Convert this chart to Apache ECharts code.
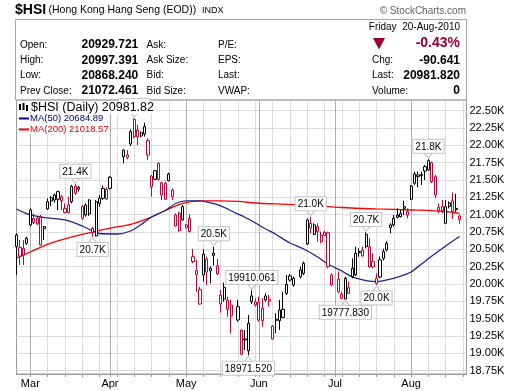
<!DOCTYPE html>
<html><head><meta charset="utf-8">
<script src="https://cdn.jsdelivr.net/npm/echarts@6/dist/echarts.min.js"></script>
<style>html,body{margin:0;padding:0;background:#fff}#c{width:520px;height:391px}</style>
</head><body><div id="c"></div>
<script>
// ---- data ----
const firstDay = '2010-02-23';
const lastCategoryDay = '2010-08-24';
const lastTradingDay = '2010-08-20';
const holidays = ['2010-04-02','2010-04-05','2010-04-06','2010-05-21','2010-06-16','2010-07-01'];
const monthNames = ['Jan','Feb','Mar','Apr','May','Jun','Jul','Aug','Sep','Oct','Nov','Dec'];
const yTicks = {min: 18750, max: 22500, step: 250};

const openVals = [20707,20404,20515,20659,20852,20948,20948,20962,20828,21082,21246,21284,21332,21260,21030,21140,21188,21415,21395,21116,21140,21212,20803,20693,21164,21236,21366,21380,
 21837,21827,22020,22375,22222,22183,22270,22068,21558,21510,21741,21284,21453,21491,21356,20837,21020,20924,
 20852,20948,20395,20193,19712,20131,20361,20192,20443,20265,19842,19784,19770,19698,
 19482,19337,19208,19039,19828,19698,
 19736,19650,19828,19780,19208,19491,19472,19520,19996,20116,19986,
 20107,20155,20578,20876,20717,20828,20611,20746,20741,19986,
 20073,19794,19784,19948,20227,20131,20467,20491,20717,20539,20323,20010,20102,20371,20491,20852,20948,20996,21020,21116,20996,
 21222,21587,21573,21578,21630,21645,21751,21549,21058,21116,20876,21170,21200,21090,20929.721];
const highVals = [20731,20635,20635,20683,21092,21020,20972,20996,20837,21236,21270,21308,21347,21284,21164,21260,21430,21440,21414,21140,21164,21222,20828,21212,21284,21420,21395,21558,
 21943,21933,22231,22390,22294,22198,22327,22101,21573,21645,21755,21476,21476,21606,21380,21020,21044,21140,
 20866,21005,20505,20347,19962,20501,20395,20255,20539,20361,19914,20020,19818,19770,
 19770,19347,19337,19554,19910.061,19794,
 19818,19794,19866,19842,19410,19578,19770,19890,20131,20145,20107,
 20251,20323,20948,20971,20876,20876,20755,20770,20755,20155,
 20179,19890,20107,20034,20371,20539,20515,20539,20745,20659,20443,20155,20400,20510,20620,20876,20996,21092,21068,21202,21092,
 21428,21621,21621,21621,21717,21800,21765,21573,21164,21212,21212,21190,21320,21300,20997.391];
const lowVals = [20131,20275,20275,20563,20828,20866,20852,20554,20635,21068,21126,21174,21068,21068,21020,21020,21164,21284,21332,20924,20972,20981,20683,20690,21116,21212,21212,21366,
 21741,21799,21991,22101,22005,22116,22126,21789,21260,21500,21491,21212,21212,21481,21212,20828,20755,20914,
 20804,20746,20299,19890,19703,20034,19986,20010,20265,20131,19588,19746,19530,19289,
 19458,18977,19049,18971.52,19712,19674,
 19458,19385,19746,19674,19203,19289,19337,19506,19842,20034,19962,
 20082,20131,20563,20731,20707,20611,20587,20693,20227,19972,
 19866,19784,19777.83,19856,20083,20116,20395,20395,20515,20236,20227,19986,20083,20340,20470,20731,20828,20948,20962,20996,20948,
 21212,21428,21395,21428,21500,21635,21453,21236,21020,21020,20866,21090,20940,21040,20868.24];
const closeVals = [20539,20529,20419,20587,21068,20885,20866,20563,20799,21188,21198,21212,21222,21203,21092,21030,21410,21308,21366,20948,20996,21010,20741,21188,21236,21380,21227,21539,
 21933,21861,22198,22125,22121,22135,22164,21861,21404,21635,21510,21462,21222,21587,21260,20996,20770,21116,
 20813,20755,20323,20140,19924,20433,20174,20229,20414,20145,19712,19953,19636,19544,
 19674,18986,19193,19434,19746,19741,
 19482,19472,19770,19756,19395,19477,19626,19635,19866,20058,20082,
 20203,20299,20924,20804,20852,20755,20707,20700,20251,20131,
 19890,19856,20083,19866,20107,20443,20453,20405,20539,20251,20246,20082,20350,20467,20588,20813,20852,20962,20972,21092,21044,
 21414,21453,21549,21563,21693,21780,21476,21284,21106,21058,21116,21120,21050,21072.461,20981.82];

const ma50Dates = ['2010-02-23','2010-03-01','2010-03-08','2010-03-15','2010-03-22','2010-03-25','2010-03-29','2010-04-05','2010-04-09','2010-04-14','2010-04-19','2010-04-23','2010-04-28','2010-05-03','2010-05-07','2010-05-12','2010-05-17','2010-05-21','2010-05-26','2010-05-31','2010-06-03','2010-06-08','2010-06-14','2010-06-18','2010-06-24','2010-06-29','2010-07-05','2010-07-08','2010-07-14','2010-07-19','2010-07-22','2010-07-28','2010-08-02','2010-08-05','2010-08-10','2010-08-16','2010-08-20'];
const ma50Vals = [21082,20996,20953,20924,20837,20765,20729,20722,20765,20859,20967,21061,21162,21198,21198,21169,21126,21032,20963,20881,20794,20715,20592,20506,20390,20289,20188,20102,20051,20037,20059,20116,20174,20289,20405,20549,20684.89];
const ma200Dates = ['2010-02-23','2010-03-01','2010-03-08','2010-03-15','2010-03-22','2010-03-29','2010-04-05','2010-04-09','2010-04-16','2010-04-23','2010-04-30','2010-05-07','2010-05-17','2010-05-24','2010-05-31','2010-06-08','2010-06-21','2010-07-05','2010-07-19','2010-08-02','2010-08-16','2010-08-20'];
const ma200Vals = [20376,20462,20571,20650,20715,20773,20823,20859,20946,21061,21162,21198,21198,21191,21169,21155,21140,21104,21083,21068,21046,21018.57];

const highMarks = [['2010-03-18','k'],['2010-04-12','k'],['2010-05-13','k'],['2010-05-28','full'],['2010-06-22','k'],['2010-07-14','k'],['2010-08-09','k']];
const lowMarks = [['2010-03-25','k'],['2010-05-27','full'],['2010-07-06','full'],['2010-07-19','k']];

// ---- build categories ----
function ds(d){return d.toISOString().slice(0,10);}
const cats = [];
for (let d = new Date(firstDay+'T00:00:00Z'); ds(d) <= lastCategoryDay; d.setUTCDate(d.getUTCDate()+1)) {
  const w = d.getUTCDay(); if (w===0||w===6) continue; cats.push(ds(d));
}
const trading = cats.filter(c => c <= lastTradingDay && holidays.indexOf(c) < 0);
const tIdx = {}; trading.forEach((c,i)=>tIdx[c]=i);
const monthStart = {}; cats.forEach((c,i)=>{ if (i>0 && c.slice(5,7)!==cats[i-1].slice(5,7)) monthStart[i]=true; });
const isMonday = cats.map(c => new Date(c+'T00:00:00Z').getUTCDay()===1);

const RED = '#cc0033', BLK = '#000000';
let prevClose = null;
const candleData = cats.map(c => {
  const k = tIdx[c];
  if (k === undefined) return '-';
  const o=openVals[k], h=highVals[k], l=lowVals[k], cl=closeVals[k];
  const col = (prevClose!==null && cl < prevClose) ? RED : BLK;
  prevClose = cl;
  return {value:[o,cl,l,h], itemStyle:{color:'#ffffff', color0:col, borderColor:col, borderColor0:col}};
});
function sparse(dates, vals){ const arr = cats.map(()=>'-'); dates.forEach((d,i)=>{ arr[cats.indexOf(d)] = vals[i]; }); return arr; }

function fmtMark(v, f){ return f==='k' ? (v/1000).toFixed(1)+'K' : v.toFixed(3); }
const markLabel = {show:true, color:'#000', fontSize:10, fontFamily:'Liberation Sans', backgroundColor:'#fff', borderColor:'#c4c4c4', borderWidth:1, padding:[2,2,1,2], lineHeight:10};
const markData = [];
highMarks.forEach(([d,f]) => { const v = highVals[tIdx[d]];
  markData.push({coord:[d,v], value:v, symbol:'path://M0,0L8,0L4,5Z', symbolSize:[8,5], symbolOffset:[0,-3.5],
    itemStyle:{color:'#fff', borderColor:'#c4c4c4', borderWidth:1},
    label:Object.assign({}, markLabel, {position:'top', distance:0, formatter: fmtMark(v,f)})}); });
lowMarks.forEach(([d,f]) => { const v = lowVals[tIdx[d]];
  markData.push({coord:[d,v], value:v, symbol:'path://M4,0L8,5L0,5Z', symbolSize:[8,5], symbolOffset:[0,3.5],
    itemStyle:{color:'#fff', borderColor:'#c4c4c4', borderWidth:1},
    label:Object.assign({}, markLabel, {position:'bottom', distance:0, formatter: fmtMark(v,f)})}); });

// ---- header texts from data ----
const n = trading.length - 1;
const lastC = closeVals[n], prevC = closeVals[n-1];
const chg = lastC - prevC, pct = chg / prevC * 100;
const lastDate = new Date(trading[n]+'T00:00:00Z');
const dayName = ['Sunday','Monday','Tuesday','Wednesday','Thursday','Friday','Saturday'][lastDate.getUTCDay()];
const dateStr = String(lastDate.getUTCDate()).padStart(2,'0')+'-'+monthNames[lastDate.getUTCMonth()]+'-'+lastDate.getUTCFullYear();

const LF = '10px "Liberation Sans"', VF = 'bold 12px "Liberation Sans"';
function T(x,y,text,font,fill,align,extra){ return {type:'text', x:x, y:y, z:100, silent:true, style:Object.assign({text:text, font:font, fill:fill||'#000', align:align||'left', verticalAlign:'middle'}, extra||{})}; }
const rows = [45, 60.5, 75.5, 91];
const graphics = [
  {type:'rect', z:1, silent:true, shape:{x:15.5,y:19.5,width:451,height:80.5}, style:{fill:'none', stroke:'#a8a8a8', lineWidth:1}},
  T(15, 10, '$HSI', 'bold 14px "Liberation Sans"'),
  T(48.5, 10.5, '(Hong Kong Hang Seng (EOD))', '10.5px "Liberation Sans"'),
  T(202, 11, 'INDX', '9px "Liberation Sans"'),
  T(466, 11.5, '\u00a9 StockCharts.com', '10px "Liberation Sans"', '#606060', 'right'),
  T(460, 27.5, dayName+'  '+dateStr, LF, '#000', 'right'),
  {type:'polygon', z:100, silent:true, shape:{points:[[373,38],[385,38],[379,49.5]]}, style:{fill:'#990033'}},
  T(460, 43.5, pct.toFixed(2)+'%', 'bold 14px "Liberation Sans"', '#990033', 'right'),
  T(20, rows[0], 'Open:', LF), T(81.5, rows[0], openVals[n].toFixed(3), VF), T(146.5, rows[0], 'Ask:', LF), T(218, rows[0], 'P/E:', LF),
  T(20, rows[1], 'High:', LF), T(81.5, rows[1], highVals[n].toFixed(3), VF), T(146.5, rows[1], 'Ask Size:', LF), T(218, rows[1], 'EPS:', LF),
  T(372, rows[1], 'Chg:', LF), T(460, rows[1], chg.toFixed(3), VF, '#000', 'right'),
  T(20, rows[2], 'Low:', LF), T(81.5, rows[2], lowVals[n].toFixed(3), VF), T(146.5, rows[2], 'Bid:', LF), T(218, rows[2], 'Last:', LF),
  T(372, rows[2], 'Last:', LF), T(460, rows[2], lastC.toFixed(3), VF, '#000', 'right'),
  T(20, rows[3], 'Prev Close:', LF), T(81.5, rows[3], prevC.toFixed(3), VF), T(146.5, rows[3], 'Bid Size:', LF), T(218, rows[3], 'VWAP:', LF),
  T(372, rows[3], 'Volume:', LF), T(460, rows[3], '0', VF, '#000', 'right'),
  // legend
  {type:'rect', z:99, silent:true, shape:{x:18,y:101,width:139,height:11}, style:{fill:'#fff'}},
  {type:'rect', z:100, silent:true, shape:{x:19,y:104,width:2,height:6}, style:{fill:'#000'}},
  {type:'rect', z:100, silent:true, shape:{x:22.5,y:103,width:2,height:7}, style:{fill:'#000'}},
  {type:'rect', z:100, silent:true, shape:{x:26,y:105,width:2,height:6}, style:{fill:'#000'}},
  T(31, 107.5, '$HSI (Daily) '+lastC.toFixed(2), '12.5px "Liberation Sans"', '#000', 'left', {backgroundColor:'#fff'}),
  {type:'line', z:100, silent:true, shape:{x1:19,y1:118.5,x2:29,y2:118.5}, style:{stroke:'#000080', lineWidth:2}},
  T(30, 118.5, 'MA(50) '+ma50Vals[ma50Vals.length-1].toFixed(2), '9.5px "Liberation Sans"', '#000080', 'left', {backgroundColor:'#fff'}),
  {type:'line', z:100, silent:true, shape:{x1:19,y1:129.5,x2:29,y2:129.5}, style:{stroke:'#ff0000', lineWidth:2}},
  T(30, 129.5, 'MA(200) '+ma200Vals[ma200Vals.length-1].toFixed(2), '9.5px "Liberation Sans"', '#ee0000', 'left', {backgroundColor:'#fff'})
];

const option = {
  animation:false,
  backgroundColor:'#fff',
  grid:[
    {left:16.5, right:53.5, top:100, bottom:17, show:true, borderColor:'#999', borderWidth:1, backgroundColor:'transparent'},
    {left:16.5, right:53.5, top:110.7, bottom:20.3, show:false}
  ],
  xAxis:[
    {type:'category', gridIndex:0, data:cats, boundaryGap:false,
     axisLine:{lineStyle:{color:'#999'}},
     axisTick:{show:true, length:3, interval:(i)=>isMonday[i]||!!monthStart[i], lineStyle:{color:'#999'}},
     axisLabel:{interval:(i)=>!!monthStart[i], formatter:(v)=>monthNames[+v.slice(5,7)-1], color:'#000', fontSize:11, fontFamily:'Liberation Sans', margin:4},
     splitLine:{show:true, interval:(i)=>isMonday[i]&&!monthStart[i], lineStyle:{color:'#dcdcdc', width:1}}},
    {type:'category', gridIndex:0, data:cats, boundaryGap:false, position:'top',
     axisLine:{show:false}, axisTick:{show:false}, axisLabel:{show:false},
     splitLine:{show:true, interval:(i)=>!!monthStart[i], lineStyle:{color:'#b0b0b0', width:1}}},
    {type:'value', gridIndex:1, show:false}
  ],
  yAxis:[
    {type:'value', gridIndex:0, min:18703, max:22654, show:false, splitLine:{show:false}},
    {type:'value', gridIndex:1, position:'right', min:yTicks.min, max:yTicks.max, interval:yTicks.step,
     axisLine:{show:false}, axisTick:{show:false},
     axisLabel:{formatter:(v)=>(v/1000).toFixed(2)+'K', color:'#000', fontSize:11, fontFamily:'Liberation Sans', margin:3},
     splitLine:{show:true, lineStyle:{color:'#dcdcdc', width:1}}}
  ],
  series:[
    {type:'line', xAxisIndex:0, yAxisIndex:0, data:sparse(ma200Dates, ma200Vals), connectNulls:true, smooth:0.3, symbol:'none', lineStyle:{color:'#ff0000', width:1.3}, z:2},
    {type:'line', xAxisIndex:0, yAxisIndex:0, data:sparse(ma50Dates, ma50Vals), connectNulls:true, smooth:0.3, symbol:'none', lineStyle:{color:'#22228c', width:1.3}, z:2},
    {type:'candlestick', xAxisIndex:0, yAxisIndex:0, data:candleData, barWidth:2.6, clip:true, z:3,
     itemStyle:{borderWidth:1},
     markPoint:{data:markData, z:6, animation:false}}
  ],
  graphic:{elements:graphics}
};
const chart = echarts.init(document.getElementById('c'));
chart.setOption(option);
</script>
</body></html>
